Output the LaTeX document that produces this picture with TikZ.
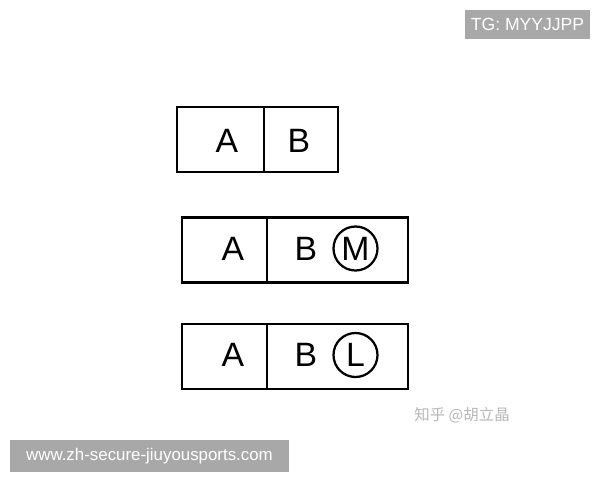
\documentclass[tikz,border=0pt]{standalone}
\usepackage{fontspec}
\setmainfont{Liberation Sans}
\newfontfamily\cjk{Noto Sans CJK SC}
\definecolor{tagGray}{HTML}{A8A8A8}
\definecolor{markGray}{HTML}{B8B8B8}
\begin{document}
\begin{tikzpicture}[x=0.025cm,y=-0.025cm,
cell/.style={draw,line width=1.5pt,minimum height=1.625cm,inner sep=0pt},
letter/.style={font=\fontsize{24}{24}\selectfont,inner sep=0pt},
ring/.style={draw,circle,line width=1.6pt,minimum size=1.1cm,inner sep=0pt,font=\fontsize{24}{24}\selectfont},
tag/.style={fill=tagGray,text=white,inner sep=0pt}]
\useasboundingbox[fill=white] (0,0) rectangle (600,480);
% first frame
\node (c1a) at (220.5,139.5) [cell,minimum width=2.175cm] {};
\node (c1b) at (301,139.5) [cell,minimum width=1.85cm] {};
\node (a1) at (227,140.5) [letter] {A};
\node (b1) at (299,140.5) [letter] {B};
% second and third frames
\foreach \y/\m in {250/M,356.5/L} {
  \node (ca\m) at (224.5,\y) [cell,minimum width=2.125cm] {};
  \node (cb\m) at (337.5,\y) [cell,minimum width=3.525cm] {};
  \node (a\m) at (233,\y-1.5) [letter] {A};
  \node (b\m) at (306,\y-1.5) [letter] {B};
  \node (r\m) at (355.5,\y-1.5) [ring] {\m};
}
% labels
\node (tg) at (527.5,24.5) [tag,minimum width=3.125cm,minimum height=0.725cm,font=\fontsize{12.5}{12.5}\selectfont] {TG: MYYJJPP};
\node (zh) at (462,415) [text=markGray,font=\cjk\fontsize{11}{11}\selectfont] {知乎 @胡立晶};
\node (www) at (149.5,456) [tag,minimum width=6.975cm,minimum height=0.775cm,font=\fontsize{12}{12}\selectfont] {www.zh-secure-jiuyousports.com};
\end{tikzpicture}
\end{document}
